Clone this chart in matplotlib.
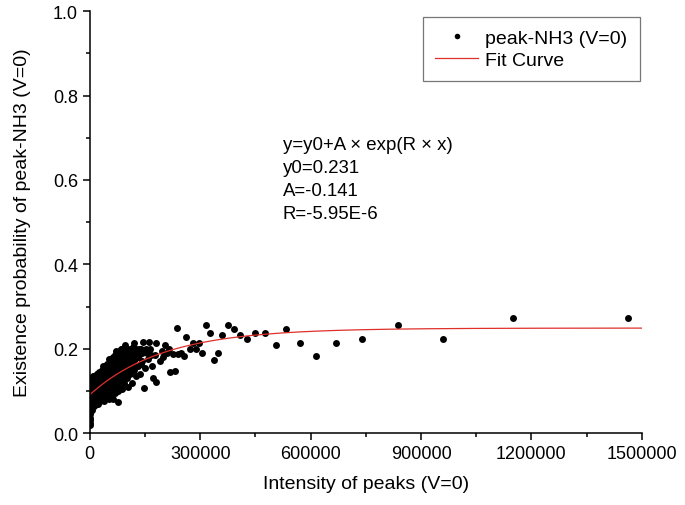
import matplotlib
matplotlib.use("Agg")
import matplotlib.pyplot as plt
import numpy as np

plt.rcParams['font.family'] = ['Liberation Sans', 'DejaVu Sans']

# peak intensity (in thousands) and existence probability
core_x_k = [0.5, 1, 0.8, 1.5, 2, 1, 2.5, 1.2, 3, 2, 1, 3, 4, 2, 0.3,
            5, 6, 7, 8, 9, 10, 11, 12, 13, 14, 15, 6, 9, 12, 15,
            17, 18, 19, 20, 21, 22, 24, 25, 26, 27, 28, 29, 30, 23, 20,
            31, 32, 33, 34, 35, 36, 37, 38, 39, 40, 41, 42, 43, 44, 45,
            46, 47, 48, 49, 50, 51, 52, 53, 54, 55, 56, 57, 58, 59, 60,
            61, 62, 63, 64, 65, 66, 67, 68, 69, 70, 71, 72, 73, 74, 75,
            76, 77, 78, 79, 80, 81, 82, 83, 84, 85, 86, 87, 88, 89, 90,
            91, 92, 93, 95, 96, 97, 98, 100, 101, 103, 104, 106, 108, 110, 109,
            112, 114, 116, 118, 120, 121, 124, 126, 128, 131, 134, 137, 140, 145, 143,
            148, 150, 155, 158, 163, 168, 172, 181, 181, 176, 190, 195, 204, 200, 210]
core_y = [0.02, 0.035, 0.05, 0.06, 0.07, 0.08, 0.09, 0.10, 0.11, 0.12, 0.13, 0.095, 0.075, 0.045, 0.03,
          0.065, 0.08, 0.10, 0.12, 0.135, 0.09, 0.11, 0.07, 0.13, 0.10, 0.085, 0.125, 0.105, 0.095, 0.12,
          0.07, 0.095, 0.125, 0.14, 0.11, 0.08, 0.13, 0.10, 0.145, 0.09, 0.12, 0.075, 0.135, 0.069, 0.105,
          0.08, 0.10, 0.145, 0.12, 0.16, 0.09, 0.13, 0.11, 0.15, 0.075, 0.14, 0.10, 0.125, 0.155, 0.085,
          0.115, 0.165, 0.095, 0.14, 0.125, 0.175, 0.08, 0.15, 0.105, 0.16, 0.13, 0.09, 0.17, 0.115, 0.145,
          0.10, 0.18, 0.081, 0.135, 0.155, 0.12, 0.175, 0.095, 0.165, 0.194, 0.14, 0.11, 0.185, 0.125, 0.15,
          0.073, 0.17, 0.10, 0.19, 0.135, 0.155, 0.115, 0.18, 0.20, 0.145, 0.125, 0.165, 0.105, 0.19, 0.15,
          0.175, 0.12, 0.20, 0.209, 0.14, 0.16, 0.185, 0.13, 0.17, 0.195, 0.11, 0.155, 0.18, 0.14, 0.20,
          0.165, 0.19, 0.12, 0.205, 0.213, 0.15, 0.175, 0.135, 0.195, 0.16, 0.185, 0.14, 0.20, 0.216, 0.17,
          0.106, 0.155, 0.19, 0.175, 0.20, 0.16, 0.13, 0.122, 0.213, 0.185, 0.17, 0.195, 0.209, 0.18, 0.19]

# second pass over the dense cluster near the origin
dense_pts = [(0.5, 0.025), (1, 0.055), (1.5, 0.065), (0.5, 0.085), (0.8, 0.105), (1.8, 0.115), (0.5, 0.125),
             (3, 0.085), (4, 0.115), (5, 0.10), (6, 0.055), (7, 0.13), (8, 0.075), (9, 0.115), (10, 0.125),
             (11, 0.065), (12, 0.135), (13, 0.085), (14, 0.12), (16, 0.10), (17, 0.13), (18, 0.08), (19, 0.11),
             (21, 0.14), (22, 0.125), (23, 0.095), (24, 0.11), (26, 0.085), (27, 0.12), (28, 0.14), (29, 0.10),
             (31, 0.13), (32, 0.115), (33, 0.09), (34, 0.15), (36, 0.14), (37, 0.10), (38, 0.155), (39, 0.125),
             (41, 0.095), (42, 0.16), (43, 0.11), (44, 0.135), (46, 0.145), (47, 0.10), (48, 0.155), (49, 0.12),
             (51, 0.09), (52, 0.135), (53, 0.165), (54, 0.125), (56, 0.10), (57, 0.155), (58, 0.14), (59, 0.165),
             (61, 0.13), (62, 0.15), (63, 0.17), (64, 0.11), (66, 0.16), (67, 0.135), (68, 0.185), (69, 0.12),
             (71, 0.17), (72, 0.155), (73, 0.135), (74, 0.175), (76, 0.14), (77, 0.185), (78, 0.16), (79, 0.125),
             (81, 0.175), (82, 0.195), (83, 0.14), (84, 0.165), (86, 0.185), (87, 0.14), (88, 0.20), (89, 0.16),
             (92, 0.19), (93, 0.15), (94, 0.17), (96, 0.195), (97, 0.13), (99, 0.18), (101, 0.15), (102, 0.20),
             (105, 0.175), (107, 0.19), (111, 0.185), (113, 0.15), (115, 0.20), (117, 0.17), (119, 0.19),
             (123, 0.16), (125, 0.20), (130, 0.18), (135, 0.20), (138, 0.165), (142, 0.19), (152, 0.20),
             (160, 0.215), (166, 0.185)]

sparse_x_k = [216, 217, 226, 231, 236, 240, 249, 255, 261, 272, 281, 288, 297, 306,
              315, 326, 337, 348, 360, 376, 391, 408, 426, 448, 475, 505, 534, 571,
              614, 668, 741, 838, 960, 1150, 1463]
sparse_y = [0.199, 0.145, 0.187, 0.148, 0.248, 0.187, 0.191, 0.183, 0.228, 0.199, 0.213, 0.199, 0.213, 0.189,
            0.257, 0.237, 0.174, 0.189, 0.232, 0.257, 0.246, 0.232, 0.223, 0.237, 0.237, 0.209, 0.246, 0.213,
            0.183, 0.213, 0.223, 0.256, 0.223, 0.272, 0.272]

# curve drawn in the figure (exponential rise to a plateau)
fit_y0 = 0.249
fit_A = -0.158
fit_R = -5.0e-6
fit_text = "y=y0+A \u00d7 exp(R \u00d7 x)\ny0=0.231\nA=-0.141\nR=-5.95E-6"

dense_x_k = [p[0] for p in dense_pts]
dense_y = [p[1] for p in dense_pts]
x = np.array(core_x_k + dense_x_k + sparse_x_k) * 1000
y = np.array(core_y + dense_y + sparse_y)

fig = plt.figure(figsize=(6.85, 5.06), dpi=100)
ax = fig.add_axes([0.131, 0.142, 0.806, 0.834])

ax.plot(x, y, 'o', color='black', markersize=5, markeredgewidth=0,
        label='peak-NH3 (V=0)')
xf = np.linspace(0, 1500000, 400)
ax.plot(xf, fit_y0 + fit_A * np.exp(fit_R * xf), color='#e0302a', lw=0.9,
        label='Fit Curve')

ax.set_xlim(0, 1500000)
ax.set_ylim(0, 1.0)
ax.set_xticks(np.arange(0, 1500001, 300000))
ax.set_xticks(np.arange(150000, 1500000, 300000), minor=True)
ax.set_yticks(np.arange(0, 1.01, 0.2))
ax.set_yticks(np.arange(0.1, 1.0, 0.2), minor=True)
ax.xaxis.set_major_formatter(matplotlib.ticker.FuncFormatter(lambda v, p: f'{int(v)}'))
ax.yaxis.set_major_formatter(matplotlib.ticker.FormatStrFormatter('%.1f'))

ax.spines['top'].set_visible(False)
ax.spines['right'].set_visible(False)
ax.spines['left'].set_linewidth(1.1)
ax.spines['bottom'].set_linewidth(1.1)
ax.tick_params(which='major', direction='out', length=5, width=1.1, labelsize=13)
ax.tick_params(which='minor', direction='out', length=3, width=1.1)

ax.set_xlabel('Intensity of peaks (V=0)', fontsize=14, labelpad=9.5)
ax.set_ylabel('Existence probability of peak-NH3 (V=0)', fontsize=14, labelpad=16)

ax.text(0.35, 0.703, fit_text, transform=ax.transAxes, fontsize=13.4,
        va='top', ha='left', linespacing=1.45)

leg = ax.legend(loc='upper right', bbox_to_anchor=(0.996, 0.986), borderaxespad=0,
                fontsize=14, frameon=True, fancybox=False, markerscale=0.8,
                handlelength=2.2, handletextpad=0.35, borderpad=0.65, labelspacing=0.2)
leg.get_frame().set_edgecolor('#555555')
leg.get_frame().set_linewidth(0.9)

fig.savefig('out.png', dpi=100, facecolor='white')
